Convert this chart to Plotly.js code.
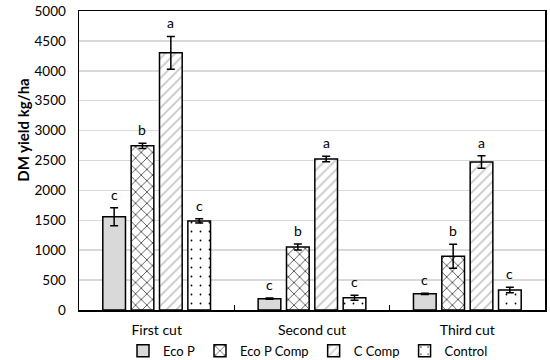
<!DOCTYPE html>
<html>
<head>
<meta charset="utf-8">
<script src="https://cdn.plot.ly/plotly-3.0.1.min.js"></script>
<style>html,body{margin:0;padding:0;background:#fff;}#chart{width:550px;height:360px;}</style>
</head>
<body>
<div id="chart"></div>
<script>
var categories = ["First cut", "Second cut", "Third cut"];
var seriesNames = ["Eco P", "Eco P Comp", "C Comp", "Control"];
var ecoP = [1560, 190, 270];
var ecoPErr = [150, 10, 10];
var ecoPComp = [2745, 1055, 900];
var ecoPCompErr = [45, 50, 200];
var cComp = [4300, 2525, 2475];
var cCompErr = [275, 45, 105];
var control = [1490, 205, 335];
var controlErr = [35, 40, 45];
var ecoPLetters = ["c", "c", "c"];
var ecoPCompLetters = ["b", "b", "b"];
var cCompLetters = ["a", "a", "a"];
var controlLetters = ["c", "c", "c"];
var yTicks = [0, 500, 1000, 1500, 2000, 2500, 3000, 3500, 4000, 4500, 5000];

var values = [ecoP, ecoPComp, cComp, control];
var errs = [ecoPErr, ecoPCompErr, cCompErr, controlErr];
var letters = [ecoPLetters, ecoPCompLetters, cCompLetters, controlLetters];
var patterns = [
  {shape: "", bgcolor: "#d9d9d9"},
  {shape: "x", fgcolor: "#000000", bgcolor: "#ffffff", size: 8, solidity: 0.15},
  {shape: "/", fgcolor: "#c8c8c8", bgcolor: "#ffffff", size: 7, solidity: 0.25},
  {shape: ".", fgcolor: "#000000", bgcolor: "#ffffff", size: 9, solidity: 0.03}
];
var fills = ["#d9d9d9", "#ffffff", "#ffffff", "#ffffff"];

var FONT = "Lato, 'Open Sans', sans-serif";
var bargap = 0.27;
var traces = [];
var annotations = [];
var n = seriesNames.length;
var slot = (1 - bargap) / n;
for (var i = 0; i < n; i++) {
  traces.push({
    type: "bar",
    name: seriesNames[i],
    x: categories,
    y: values[i],
    marker: {color: fills[i], line: {color: "#000000", width: 1.5}, pattern: patterns[i]},
    error_y: {type: "data", array: errs[i], visible: true, color: "#000000", thickness: 1.5, width: 4}
  });
  for (var j = 0; j < categories.length; j++) {
    annotations.push({
      xref: "x", yref: "y",
      x: j - (1 - bargap) / 2 + slot * (i + 0.5),
      y: values[i][j] + errs[i][j],
      yanchor: "bottom", yshift: 3,
      text: letters[i][j], showarrow: false,
      font: {family: FONT, size: 14, color: "#000000"}
    });
  }
}
annotations.push({
  xref: "paper", yref: "paper", x: -0.122, y: 0.6, xanchor: "center", yanchor: "middle",
  text: "<b>DM yield kg/ha</b>", textangle: -90, showarrow: false,
  font: {family: FONT, size: 15, color: "#000000"}
});

var layout = {
  width: 550, height: 360,
  margin: {l: 79, r: 5, t: 11, b: 50, autoexpand: false},
  paper_bgcolor: "#ffffff", plot_bgcolor: "#ffffff",
  barmode: "group", bargap: bargap, bargroupgap: 0.2,
  font: {family: FONT, size: 13, color: "#000000"},
  showlegend: true,
  legend: {orientation: "h", x: 0.56, xanchor: "center", xref: "container",
    y: -0.086, yanchor: "top", yref: "paper", bgcolor: "rgba(0,0,0,0)",
    font: {family: FONT, size: 13}, itemwidth: 30, tracegroupgap: 0},
  xaxis: {
    type: "category", showline: true, linecolor: "#000000", linewidth: 1.5, mirror: true,
    ticks: "inside", tickson: "boundaries", ticklen: 5, tickcolor: "#000000",
    showgrid: false, tickfont: {family: FONT, size: 14}, ticklabelstandoff: 7
  },
  yaxis: {
    range: [0, 5000], tickvals: yTicks, ticktext: yTicks.map(String),
    showline: true, linecolor: "#000000", linewidth: 1.5, mirror: true,
    showgrid: true, gridcolor: "#d9d9d9", gridwidth: 1.5, zeroline: false,
    ticks: "", tickfont: {family: FONT, size: 13.5}, ticklabelstandoff: 9
  },
  annotations: annotations
};
Plotly.newPlot("chart", traces, layout, {displayModeBar: false, staticPlot: true});
</script>
</body>
</html>
